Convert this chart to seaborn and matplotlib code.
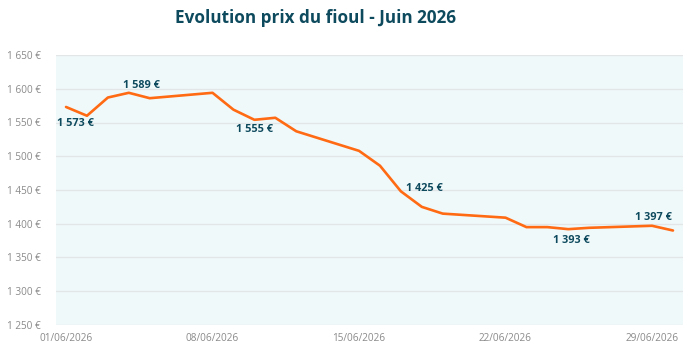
import matplotlib
matplotlib.use("Agg")
import matplotlib.pyplot as plt
import matplotlib.dates as mdates
from matplotlib.ticker import FuncFormatter
import seaborn as sns
import pandas as pd

# ---- data ----
days = [1, 2, 3, 4, 5, 8, 9, 10, 11, 12, 15, 16, 17, 18, 19, 22, 23, 24, 25, 26, 29, 30]
prices = [1573, 1560, 1587, 1594, 1586, 1594, 1569, 1554, 1557, 1537,
          1508, 1486, 1448, 1425, 1415, 1409, 1395, 1395, 1392, 1394, 1397, 1390]
label_days = [1, 4, 10, 18, 25, 29]
label_texts = ["1 573 €", "1 589 €", "1 555 €", "1 425 €", "1 393 €", "1 397 €"]
tick_days = [1, 8, 15, 22, 29]
title = "Evolution prix du fioul - Juin 2026"

df = pd.DataFrame({
    "date": pd.to_datetime([f"2026-06-{d:02d}" for d in days]),
    "prix": prices,
})

sns.set_style("white")
plt.rcParams["font.family"] = ["Open Sans", "DejaVu Sans"]

fig = plt.figure(figsize=(6.93, 3.5), dpi=100)
ax = fig.add_axes([56 / 693, 1 - 325 / 350, (683 - 56) / 693, (325 - 55) / 350])
ax.set_facecolor("#f0f9fa")

sns.lineplot(data=df, x="date", y="prix", ax=ax, color="#ff6a13", linewidth=1.9,
             zorder=3)

ax.set_ylim(1250, 1650)
ax.set_yticks(range(1250, 1651, 50))
ax.yaxis.set_major_formatter(FuncFormatter(lambda v, p: f"{v:,.0f}".replace(",", " ") + " €"))
start = pd.Timestamp("2026-06-01")
ax.set_xlim(start - pd.Timedelta(hours=11.5), start + pd.Timedelta(days=29, hours=11.5))
ax.set_xticks([pd.Timestamp(f"2026-06-{d:02d}") for d in tick_days])
ax.xaxis.set_major_formatter(mdates.DateFormatter("%d/%m/%Y"))

ax.grid(axis="y", color="#e2e6e6", linewidth=1)
ax.grid(axis="x", visible=False)
for s in ax.spines.values():
    s.set_visible(False)
ax.tick_params(axis="both", length=0, labelsize=7.2, colors="#8a8a8a")
ax.tick_params(axis="y", pad=11)
ax.tick_params(axis="x", pad=6)
ax.set_xlabel("")
ax.set_ylabel("")

# data labels (offsets in points)
offsets = {1: (7, -12), 4: (9, 5), 10: (0, -7), 18: (1.5, 13), 25: (2, -8), 29: (1, 6)}
lookup = dict(zip(days, prices))
for d, t in zip(label_days, label_texts):
    dx, dy = offsets[d]
    ax.annotate(t, (pd.Timestamp(f"2026-06-{d:02d}"), lookup[d]),
                xytext=(dx, dy), textcoords="offset points",
                ha="center", va="center", fontsize=7.8, fontweight="bold",
                color="#0e4a5e", zorder=5)

fig.text(175 / 693, 1 - 18 / 350, title, ha="left", va="center",
         fontsize=12.3, fontweight="bold", color="#0e4a5e")

fig.savefig("out.png", dpi=100)
